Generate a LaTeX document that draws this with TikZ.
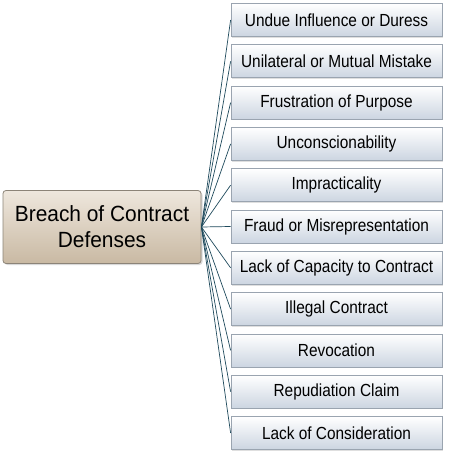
\documentclass[tikz,border=0pt]{standalone}
\usepackage{fontspec}
\setmainfont{Liberation Sans}
\newfontfamily\itemfont[FakeStretch=0.88]{Liberation Sans}
\newfontfamily\rootfont[FakeStretch=0.95]{Liberation Sans}
\usetikzlibrary{shadows}
\definecolor{linec}{HTML}{1F4A5C}
\definecolor{boxdraw}{HTML}{9AA4B0}
\definecolor{boxbot}{HTML}{CCD5E1}
\definecolor{rootdraw}{HTML}{8C8478}
\definecolor{roottop}{HTML}{EEE7DD}
\definecolor{rootbot}{HTML}{C9B9A3}
\begin{document}
\begin{tikzpicture}[x=1pt,y=-1pt,
  item/.style={draw=boxdraw, line width=0.8pt, top color=white, bottom color=boxbot,
    minimum width=211pt, minimum height=33pt, inner sep=0pt, font=\itemfont\fontsize{17.5}{20}\selectfont,
    drop shadow={opacity=0.25, shadow xshift=1.2pt, shadow yshift=-1.2pt}},
  rootbox/.style={draw=rootdraw, line width=0.8pt, top color=roottop, bottom color=rootbot,
    rounded corners=3pt, minimum width=198pt, minimum height=73pt, inner sep=0pt,
    align=center, font=\rootfont\fontsize{22}{26}\selectfont,
    drop shadow={opacity=0.3, shadow xshift=1.5pt, shadow yshift=-1.5pt}},
  conn/.style={draw=linec, line width=0.7pt}]
\useasboundingbox (0,0) rectangle (450,454);
\node[rootbox] (root) at (102,227) {Breach of Contract\\Defenses};
\foreach \t [count=\i] in {Undue Influence or Duress,Unilateral or Mutual Mistake,Frustration of Purpose,Unconscionability,Impracticality,Fraud or Misrepresentation,Lack of Capacity to Contract,Illegal Contract,Revocation,Repudiation Claim,Lack of Consideration}{
  \node[item] (n\i) at (336.5,{20+(\i-1)*41.3}) {\t};
}
\foreach \i in {1,...,11}{
  \draw[conn] (root.east) -- (n\i.west);
}
\end{tikzpicture}
\end{document}
